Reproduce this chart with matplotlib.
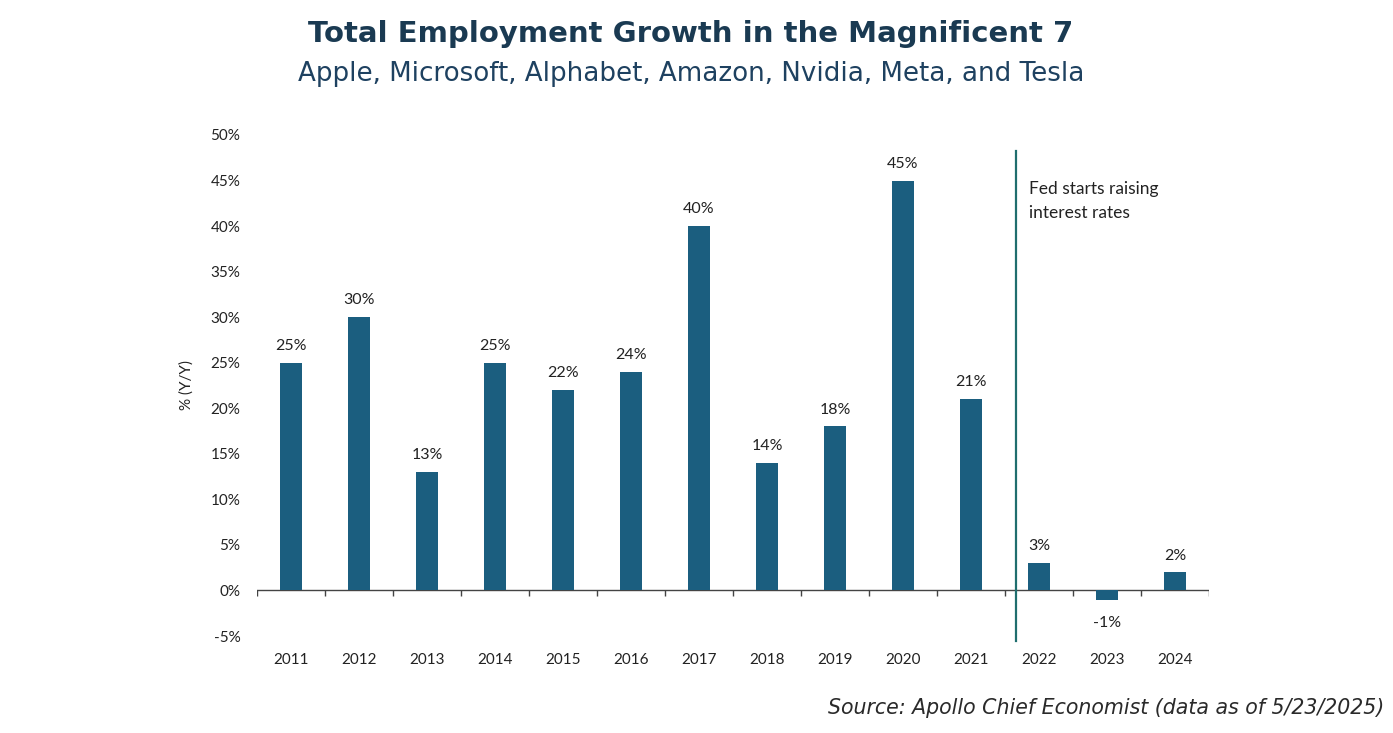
import numpy as np
import matplotlib

matplotlib.use("Agg")
import matplotlib.pyplot as plt

years = ["2011", "2012", "2013", "2014", "2015", "2016", "2017",
         "2018", "2019", "2020", "2021", "2022", "2023", "2024"]
growth = [25, 30, 13, 25, 22, 24, 40, 14, 18, 45, 21, 3, -1, 2]
yticks = [-5, 0, 5, 10, 15, 20, 25, 30, 35, 40, 45, 50]
fed_note = "Fed starts raising\ninterest rates"

BAR = "#1b5e7f"
LINE = "#1f6e6e"
NAVY = "#1a3a52"
HEAD = ["DejaVu Sans"]

plt.rcParams["font.family"] = ["Lato", "DejaVu Sans"]

fig = plt.figure(figsize=(13.93, 7.33), dpi=100)
ax = fig.add_axes([257 / 1393, 97 / 733, 952 / 1393, 501 / 733])

x = np.arange(len(years))
ax.bar(x, growth, width=0.32, color=BAR, zorder=2)
for xi, v in zip(x, growth):
    if v >= 0:
        ax.annotate(f"{v}%", (xi, v), xytext=(0, 7), textcoords="offset points",
                    ha="center", va="bottom", fontsize=11.5, color="#222222")
    else:
        ax.annotate(f"{v}%", (xi, v), xytext=(0, -12), textcoords="offset points",
                    ha="center", va="top", fontsize=11.5, color="#222222")

# zero line with category boundary ticks
ax.axhline(0, color="#444444", lw=1.0, zorder=1)
bounds = np.arange(len(years) + 1) - 0.5
ax.vlines(bounds, -0.6, 0, color="#444444", lw=1.0, zorder=1)

# Fed marker between 2021 and 2022
ax.plot([10.66, 10.66], [-5.6, 48.2], color=LINE, lw=1.6, clip_on=False, zorder=3)
ax.text(10.85, 44.9, fed_note, fontsize=12.5, color="#222222", va="top",
        ha="left", linespacing=1.55)

ax.set_xlim(-0.5, len(years) - 0.5)
ax.set_ylim(-5, 50)
ax.set_xticks(x)
ax.set_xticklabels(years, fontsize=11, color="#222222")
ax.set_yticks(yticks)
ax.set_yticklabels([f"{t}%" for t in yticks], fontsize=11, color="#222222")
ax.tick_params(axis="both", length=0)
ax.tick_params(axis="x", pad=12)
ax.tick_params(axis="y", pad=12)
for s in ax.spines.values():
    s.set_visible(False)
ax.set_ylabel("% (Y/Y)", fontsize=11, color="#222222", labelpad=12)

fig.text(0.496, 0.954, "Total Employment Growth in the Magnificent 7", ha="center",
         va="center", fontsize=21, fontweight="bold", color=NAVY, family=HEAD)
fig.text(0.496, 0.899, "Apple, Microsoft, Alphabet, Amazon, Nvidia, Meta, and Tesla",
         ha="center", va="center", fontsize=18.8, color="#1e4160", family=HEAD)
fig.text(0.994, 0.034, "Source: Apollo Chief Economist (data as of 5/23/2025)",
         ha="right", va="center", fontsize=14.8, style="italic", color="#2a2a2a",
         family=HEAD)

fig.savefig("out.png", dpi=100, facecolor="white")
